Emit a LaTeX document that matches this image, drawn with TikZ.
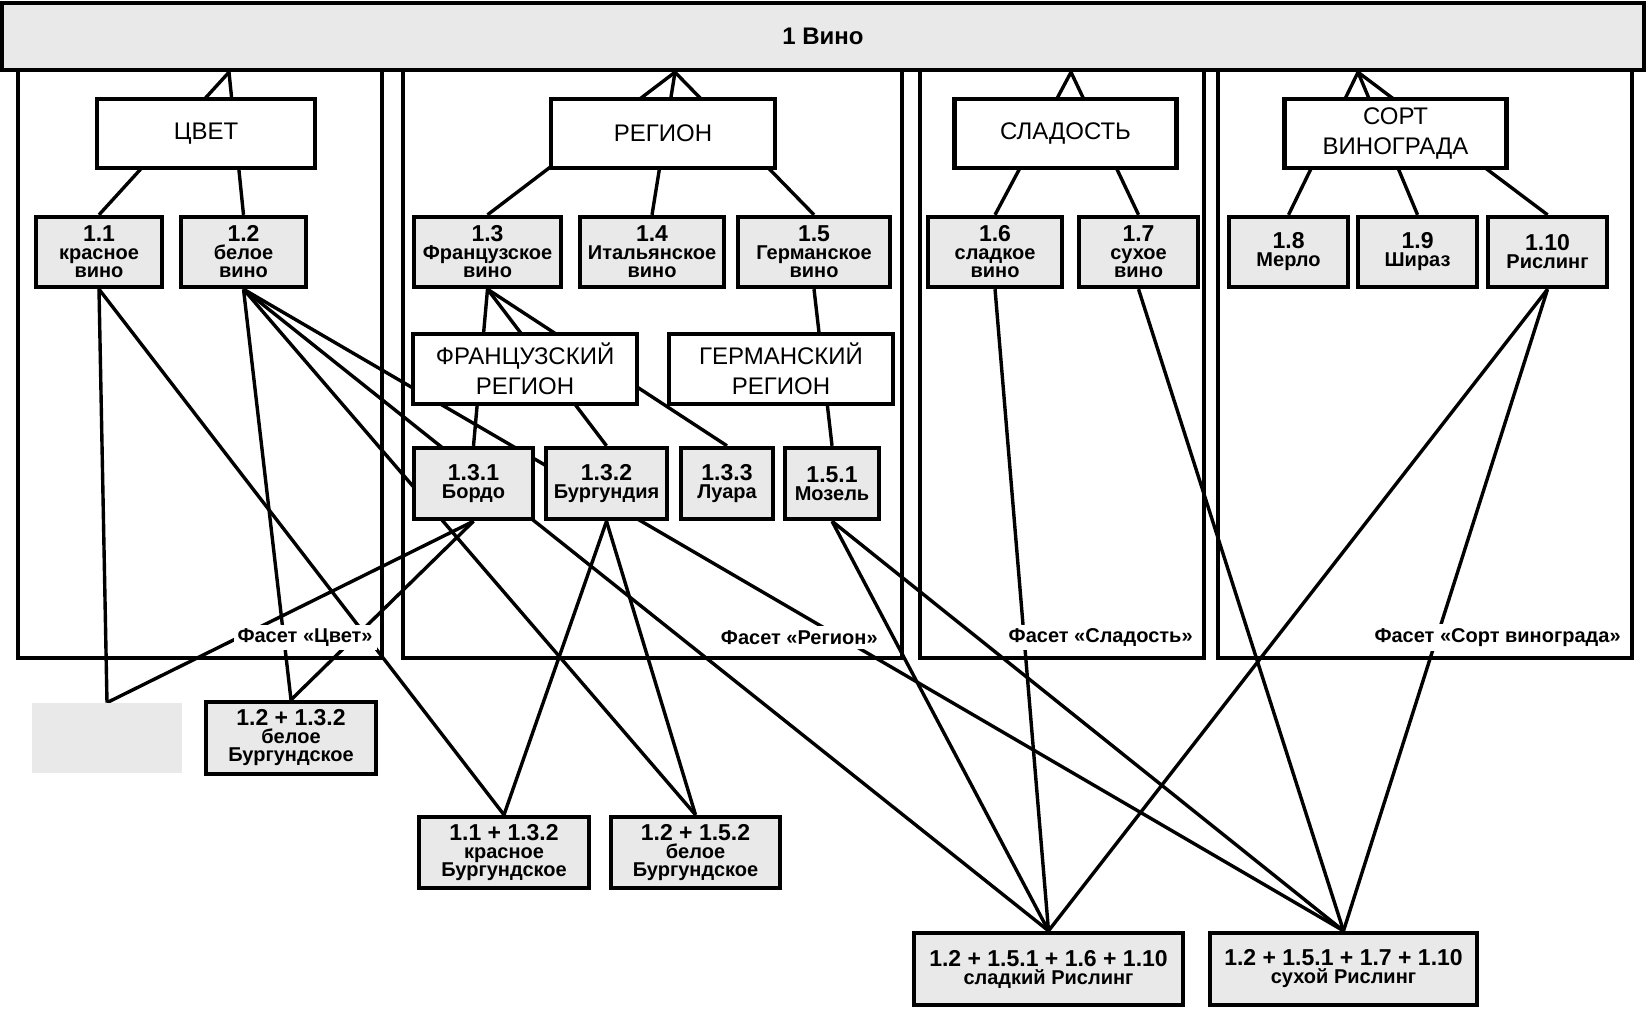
\documentclass[tikz,border=0pt]{standalone}
\usepackage{fontspec}
\setmainfont{Liberation Sans}
\usepackage{tikz}
\usetikzlibrary{backgrounds}
\definecolor{grigiochiaro}{RGB}{233,233,233}
\newcommand{\cifra}[1]{{\fontsize{11.5}{9}\selectfont #1}}
\tikzstyle{nodovino} = [rectangle,draw=black,line width=2.2pt,fill=grigiochiaro,minimum width=821pt,minimum height=33.5pt,font=\bfseries\fontsize{12}{14}\selectfont]
\tikzstyle{nodofaccetta} = [rectangle,draw=black,line width=2.2pt,fill=white,minimum width=111pt,minimum height=34.5pt,inner sep=1pt,align=center,font=\fontsize{12}{15}\selectfont]
\tikzstyle{nodovalore} = [rectangle,draw=black,line width=2.2pt,fill=grigiochiaro,minimum height=35pt,inner sep=1pt,align=center,font=\bfseries\fontsize{10}{9}\selectfont]
\tikzstyle{nodovuoto} = [rectangle,fill=grigiochiaro,minimum width=75pt,minimum height=35pt]
\tikzstyle{etichetta} = [fill=white,inner sep=2pt,anchor=east,font=\bfseries\fontsize{10}{12}\selectfont]
\tikzstyle{cornice} = [line width=2pt]
\tikzstyle{linea} = [line width=1.7pt]
\begin{document}
\begin{tikzpicture}

% 1 px = 0.5pt
\useasboundingbox (0pt,0pt) rectangle (824pt,-504.5pt);

\node (vino) [nodovino,xshift=411.5pt,yshift=-18.25pt] {1 Вино};

\coordinate (apicecvet) at ([xshift=-297pt]vino.south);
\coordinate (apiceregione) at ([xshift=-74pt]vino.south);
\coordinate (apicedolce) at ([xshift=124pt]vino.south);
\coordinate (apicesorta) at ([xshift=267.5pt]vino.south);

\node (cvet)    [nodofaccetta,minimum width=109pt,xshift=103pt,yshift=-66.75pt] {ЦВЕТ};
\node (regione) [nodofaccetta,minimum width=112pt,right of=cvet,xshift=200.05pt] {РЕГИОН};
\node (dolce)   [nodofaccetta,right of=regione,xshift=172.8pt] {СЛАДОСТЬ};
\node (sorta)   [nodofaccetta,right of=dolce,xshift=136.55pt] {СОРТ\\ВИНОГРАДА};

\node (n11)  [nodovalore,minimum width=63pt,xshift=49.5pt,yshift=-126pt] {\cifra{1.1}\\красное\\вино};
\node (n12)  [nodovalore,minimum width=62.5pt,right of=n11,xshift=43.8pt] {\cifra{1.2}\\белое\\вино};
\node (n13)  [nodovalore,minimum width=73.5pt,right of=n12,xshift=93.55pt] {\cifra{1.3}\\Французское\\вино};
\node (n14)  [nodovalore,minimum width=72pt,right of=n13,xshift=53.8pt] {\cifra{1.4}\\Итальянское\\вино};
\node (n15)  [nodovalore,minimum width=76pt,right of=n14,xshift=52.55pt] {\cifra{1.5}\\Германское\\вино};
\node (n16)  [nodovalore,minimum width=67pt,right of=n15,xshift=62.05pt] {\cifra{1.6}\\сладкое\\вино};
\node (n17)  [nodovalore,minimum width=59.5pt,right of=n16,xshift=43.3pt] {\cifra{1.7}\\сухое\\вино};
\node (n18)  [nodovalore,minimum width=59.5pt,right of=n17,xshift=46.55pt] {\cifra{1.8}\\Мерло};
\node (n19)  [nodovalore,minimum width=59.5pt,right of=n18,xshift=36.05pt] {\cifra{1.9}\\Шираз};
\node (n110) [nodovalore,minimum width=59.5pt,right of=n19,xshift=36.55pt] {\cifra{1.10}\\Рислинг};

\node (frreg) [nodofaccetta,minimum width=112pt,minimum height=35pt,below of=n13,xshift=18.75pt,yshift=-30.05pt] {ФРАНЦУЗСКИЙ\\РЕГИОН};
\node (dereg) [nodofaccetta,minimum width=112pt,minimum height=35pt,right of=frreg,xshift=99.55pt] {ГЕРМАНСКИЙ\\РЕГИОН};

\node (n131) [nodovalore,minimum width=59.5pt,minimum height=35.5pt,below of=frreg,xshift=-25.75pt,yshift=-28.8pt] {\cifra{1.3.1}\\Бордо};
\node (n132) [nodovalore,minimum width=60.5pt,minimum height=35.5pt,right of=n131,xshift=38.05pt] {\cifra{1.3.2}\\Бургундия};
\node (n133) [nodovalore,minimum width=46pt,minimum height=35.5pt,right of=n132,xshift=31.8pt] {\cifra{1.3.3}\\Луара};
\node (n151) [nodovalore,minimum width=47pt,minimum height=35.5pt,right of=n133,xshift=24.05pt] {\cifra{1.5.1}\\Мозель};

\node (e0) [nodovuoto,xshift=53.5pt,yshift=-369pt] {};
\node (w1) [nodovalore,minimum width=85pt,minimum height=36pt,right of=e0,xshift=63.55pt] {\cifra{1.2 + 1.3.2}\\белое\\Бургундское};
\node (k1) [nodovalore,minimum width=85pt,minimum height=35.5pt,xshift=252pt,yshift=-426.25pt] {\cifra{1.1 + 1.3.2}\\красное\\Бургундское};
\node (k2) [nodovalore,minimum width=84.5pt,minimum height=35.5pt,right of=k1,xshift=67.3pt] {\cifra{1.2 + 1.5.2}\\белое\\Бургундское};
\node (r1) [nodovalore,minimum width=134.5pt,minimum height=36pt,xshift=524.25pt,yshift=-484.5pt] {\cifra{1.2 + 1.5.1 + 1.6 + 1.10}\\сладкий Рислинг};
\node (r2) [nodovalore,minimum width=133.5pt,minimum height=36pt,right of=r1,xshift=119.05pt] {\cifra{1.2 + 1.5.1 + 1.7 + 1.10}\\сухой Рислинг};

\node (fcvet)    [etichetta,xshift=188.5pt,yshift=-318.75pt] {Фасет «Цвет»};
\node (fregione) [etichetta,xshift=441pt,yshift=-318.75pt] {Фасет «Регион»};
\node (fdolce)   [etichetta,xshift=598.5pt,yshift=-318.75pt] {Фасет «Сладость»};
\node (fsorta)   [etichetta,xshift=812.5pt,yshift=-318.75pt] {Фасет «Сорт винограда»};

\begin{pgfonlayer}{background}
\draw[cornice] (9pt,-35pt) rectangle (191pt,-329pt);
\draw[cornice] (201.5pt,-35pt) rectangle (451pt,-329pt);
\draw[cornice] (460pt,-35pt) rectangle (602pt,-329pt);
\draw[cornice] (609pt,-35pt) rectangle (816pt,-329pt);

\draw[linea] (apicecvet) -- (n11.north);
\draw[linea] (apicecvet) -- (n12.north);
\draw[linea] (apiceregione) -- (n13.north);
\draw[linea] (apiceregione) -- (n14.north);
\draw[linea] (apiceregione) -- (n15.north);
\draw[linea] (apicedolce) -- (n16.north);
\draw[linea] (apicedolce) -- (n17.north);
\draw[linea] (apicesorta) -- (n18.north);
\draw[linea] (apicesorta) -- (n19.north);
\draw[linea] (apicesorta) -- (n110.north);

\draw[linea] (n13.south) -- (n131.north);
\draw[linea] (n13.south) -- (n132.north);
\draw[linea] (n13.south) -- (n133.north);
\draw[linea] (n15.south) -- (n151.north);

\draw[linea] (n11.south) -- (e0.north);
\draw[linea] (n11.south) -- (k1.north);
\draw[linea] (n12.south) -- (w1.north);
\draw[linea] (n12.south) -- (k2.north);
\draw[linea] (n12.south) -- (r1.north);
\draw[linea] (n12.south) -- (r2.north);
\draw[linea] (n131.south) -- (e0.north);
\draw[linea] (n131.south) -- (w1.north);
\draw[linea] (n132.south) -- (k1.north);
\draw[linea] (n132.south) -- (k2.north);
\draw[linea] (n151.south) -- (r1.north);
\draw[linea] (n151.south) -- (r2.north);
\draw[linea] (n16.south) -- (r1.north);
\draw[linea] (n17.south) -- (r2.north);
\draw[linea] (n110.south) -- (r1.north);
\draw[linea] (n110.south) -- (r2.north);
\end{pgfonlayer}

\end{tikzpicture}
\end{document}
